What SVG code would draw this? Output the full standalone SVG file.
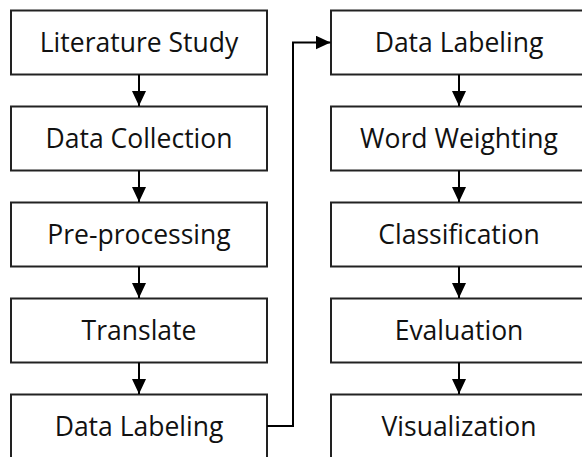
<svg xmlns="http://www.w3.org/2000/svg" width="582" height="457" viewBox="0 0 582 457">
  <defs>
    <marker id="arrow" markerWidth="15" markerHeight="14" refX="15" refY="7" orient="auto" markerUnits="userSpaceOnUse">
      <path d="M0,0 L15,7 L0,14 Z" fill="#000"/>
    </marker>
    <style>
      .box { fill: #fff; stroke: #222; stroke-width: 2; }
      .label { font-family: "Open Sans", "Noto Sans", sans-serif; font-size: 26.5px; fill: #111; text-anchor: middle; dominant-baseline: central; }
      .conn { fill: none; stroke: #000; stroke-width: 2; marker-end: url(#arrow); }
    </style>
  </defs>
  <rect width="582" height="457" fill="#fff"/>

  <!-- left column -->
  <g id="literature-study"><rect class="box" x="11" y="10.5" width="256" height="64"/><text class="label" x="139" y="41.5">Literature Study</text></g>
  <g id="data-collection"><rect class="box" x="11" y="106.5" width="256" height="64"/><text class="label" x="139" y="137.5">Data Collection</text></g>
  <g id="pre-processing"><rect class="box" x="11" y="202.5" width="256" height="64"/><text class="label" x="139" y="233.5">Pre-processing</text></g>
  <g id="translate"><rect class="box" x="11" y="298.5" width="256" height="64"/><text class="label" x="139" y="329.5">Translate</text></g>
  <g id="data-labeling-1"><rect class="box" x="11" y="394.5" width="256" height="64"/><text class="label" x="139" y="425.5">Data Labeling</text></g>

  <!-- right column -->
  <g id="data-labeling-2"><rect class="box" x="331" y="10.5" width="256" height="64"/><text class="label" x="459" y="41.5">Data Labeling</text></g>
  <g id="word-weighting"><rect class="box" x="331" y="106.5" width="256" height="64"/><text class="label" x="459" y="137.5">Word Weighting</text></g>
  <g id="classification"><rect class="box" x="331" y="202.5" width="256" height="64"/><text class="label" x="459" y="233.5">Classification</text></g>
  <g id="evaluation"><rect class="box" x="331" y="298.5" width="256" height="64"/><text class="label" x="459" y="329.5">Evaluation</text></g>
  <g id="visualization"><rect class="box" x="331" y="394.5" width="256" height="64"/><text class="label" x="459" y="425.5">Visualization</text></g>

  <g id="connectors">
    <line class="conn" x1="139" y1="74.5" x2="139" y2="106"/>
    <line class="conn" x1="139" y1="170.5" x2="139" y2="202"/>
    <line class="conn" x1="139" y1="266.5" x2="139" y2="298"/>
    <line class="conn" x1="139" y1="362.5" x2="139" y2="394"/>
    <path class="conn" d="M267,426 H293 V42.5 H330.5"/>
    <line class="conn" x1="459" y1="74.5" x2="459" y2="106"/>
    <line class="conn" x1="459" y1="170.5" x2="459" y2="202"/>
    <line class="conn" x1="459" y1="266.5" x2="459" y2="298"/>
    <line class="conn" x1="459" y1="362.5" x2="459" y2="394"/>
  </g>
</svg>
